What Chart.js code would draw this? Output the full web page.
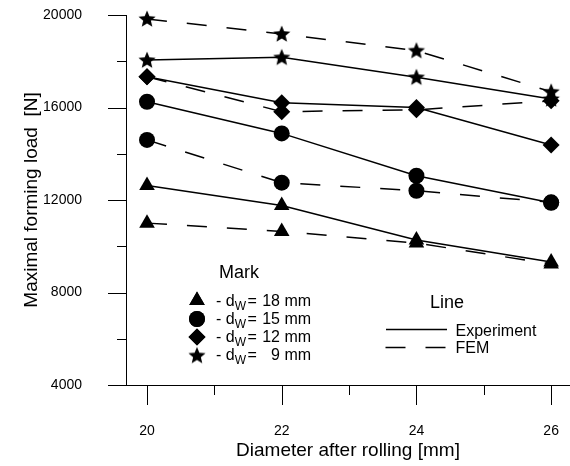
<!DOCTYPE html>
<html><head><meta charset="utf-8">
<script src="https://cdn.jsdelivr.net/npm/chart.js@4.4.1/dist/chart.umd.min.js"></script>
<style>html,body{margin:0;padding:0;background:#fff}#wrap{width:570px;height:466px;position:relative}</style>
</head><body><div id="wrap"><canvas id="c"></canvas></div>
<script>
// ---- data ----
const diameters = [20, 22, 24, 26];
const xMajorTicks = [20, 22, 24, 26];
const xMinorTicks = [21, 23, 25];
const yMajorTicks = [4000, 8000, 12000, 16000, 20000];
const yMinorTicks = [6000, 10000, 14000, 18000];
const rollDiameters = [18, 15, 12, 9];
const exp18 = [12630, 11760, 10270, 9320];
const fem18 = [11000, 10640, 10140, 9230];
const exp15 = [16250, 14880, 13050, 11880];
const fem15 = [14600, 12750, 12400, 11900];
const exp12 = [17330, 16210, 16000, 14380];
const fem12 = [17330, 15820, 15900, 16290];
const exp9 = [18050, 18170, 17310, 16370];
const fem9 = [19830, 19180, 18460, 16680];
const xTitle = 'Diameter after rolling [mm]';
const yTitle = 'Maximal forming load  [N]';
const lineLabels = ['Experiment', 'FEM'];

const FONT = "'Liberation Sans', Arial, sans-serif";
Chart.defaults.font.family = FONT;
Chart.defaults.color = '#000';

function makeStar(R, ratio) {
  const s = Math.ceil(2 * R + 2);
  const c = document.createElement('canvas');
  c.width = s; c.height = s;
  const g = c.getContext('2d');
  g.translate(s / 2, s / 2 + R * 0.05);
  g.beginPath();
  for (let i = 0; i < 10; i++) {
    const r = i % 2 === 0 ? R : R * ratio;
    const a = -Math.PI / 2 + i * Math.PI / 5;
    const px = Math.cos(a) * r, py = Math.sin(a) * r;
    if (i === 0) g.moveTo(px, py); else g.lineTo(px, py);
  }
  g.closePath();
  g.fillStyle = '#000';
  g.fill();
  return c;
}
const starImg = makeStar(9, 0.45);

const markers = [
  {style: 'triangle', radius: 9},
  {style: 'circle', radius: 8},
  {style: 'rectRot', radius: 8.5},
  {style: starImg, radius: 9}
];
const series = [
  [exp18, fem18], [exp15, fem15], [exp12, fem12], [exp9, fem9]
];

const datasets = [];
series.forEach((pair, k) => {
  pair.forEach((vals, j) => {
    datasets.push({
      label: lineLabels[j] + ' d=' + rollDiameters[k],
      data: diameters.map((x, i) => ({x: x, y: vals[i]})),
      borderColor: '#000',
      backgroundColor: '#000',
      borderWidth: 1.5,
      borderDash: j === 1 ? [20, 20] : [],
      pointStyle: markers[k].style,
      pointRadius: markers[k].radius,
      pointBorderWidth: 0,
      pointBackgroundColor: '#000',
      tension: 0,
      clip: false
    });
  });
});

const drawExtras = {
  id: 'extras',
  afterDraw(chart) {
    const ctx = chart.ctx;
    const xs = chart.scales.x, ys = chart.scales.y;
    const left = chart.chartArea.left, bottom = chart.chartArea.bottom;
    ctx.save();
    ctx.strokeStyle = '#000';
    ctx.lineWidth = 1;
    ctx.setLineDash([]);
    ctx.beginPath();
    yMajorTicks.forEach(v => {
      const y = Math.round(ys.getPixelForValue(v)) + 0.5;
      ctx.moveTo(left - 18, y); ctx.lineTo(left + 1, y);
    });
    yMinorTicks.forEach(v => {
      const y = Math.round(ys.getPixelForValue(v)) + 0.5;
      ctx.moveTo(left - 9, y); ctx.lineTo(left + 1, y);
    });
    xMajorTicks.forEach(v => {
      const x = Math.round(xs.getPixelForValue(v)) + 0.5;
      ctx.moveTo(x, bottom); ctx.lineTo(x, bottom + 20);
    });
    xMinorTicks.forEach(v => {
      const x = Math.round(xs.getPixelForValue(v)) + 0.5;
      ctx.moveTo(x, bottom); ctx.lineTo(x, bottom + 10);
    });
    ctx.stroke();

    // legend: markers
    ctx.fillStyle = '#000';
    ctx.textBaseline = 'alphabetic';
    ctx.font = '18px ' + FONT;
    ctx.textAlign = 'left';
    ctx.fillText('Mark', 219, 278);
    const mx = 197;
    const my = [300.5, 319, 337, 355.5];
    const ty = [305.7, 323.8, 341.9, 360];
    markers.forEach((m, i) => {
      ctx.save();
      ctx.fillStyle = '#000';
      ctx.strokeStyle = '#000';
      ctx.lineWidth = 0;
      ctx.beginPath();
      if (typeof m.style === 'string') {
        Chart.helpers.drawPoint(ctx, {pointStyle: m.style, radius: m.radius, rotation: 0, borderWidth: 0}, mx, my[i]);
        ctx.fill();
      } else {
        ctx.drawImage(m.style, mx - m.style.width / 2, my[i] - m.style.height / 2);
      }
      ctx.restore();
    });
    rollDiameters.forEach((d, i) => {
      let x = 216;
      ctx.font = '16px ' + FONT;
      ctx.fillText('- d', x, ty[i]);
      x += ctx.measureText('- d').width;
      ctx.font = '12px ' + FONT;
      ctx.fillText('W', x, ty[i] + 4);
      x += ctx.measureText('W').width + 1.5;
      ctx.font = '16px ' + FONT;
      ctx.fillText('=', x, ty[i]);
      ctx.textAlign = 'right';
      ctx.fillText(String(d), 280, ty[i]);
      ctx.textAlign = 'left';
      ctx.fillText(' mm', 280, ty[i]);
    });
    // legend: lines
    ctx.font = '18px ' + FONT;
    ctx.fillText('Line', 430, 308.3);
    ctx.font = '16px ' + FONT;
    ctx.fillText(lineLabels[0], 455.5, 335.5);
    ctx.fillText(lineLabels[1], 455.5, 353.3);
    ctx.lineWidth = 1.5;
    ctx.beginPath();
    ctx.moveTo(386, 329.5); ctx.lineTo(447, 329.5);
    ctx.stroke();
    ctx.setLineDash([20, 20]);
    ctx.beginPath();
    ctx.moveTo(385.5, 347.5); ctx.lineTo(446.5, 347.5);
    ctx.stroke();
    ctx.restore();
  }
};

new Chart(document.getElementById('c'), {
  type: 'line',
  data: {datasets},
  options: {
    responsive: true,
    maintainAspectRatio: false,
    animation: false,
    layout: {autoPadding: false, padding: {top: 15, right: 0, left: 0, bottom: 0}},
    plugins: {legend: {display: false}, tooltip: {enabled: false}},
    scales: {
      x: {
        type: 'linear',
        min: 19.688,
        max: 26.28,
        afterFit: s => { s.height = 81; s.paddingLeft = 0; s.paddingRight = 0; },
        afterBuildTicks: s => { s.ticks = xMajorTicks.map(v => ({value: v})); },
        grid: {display: false, drawTicks: true, tickLength: 36},
        border: {display: true, color: '#000', width: 1},
        ticks: {padding: 2, font: {size: 14}, color: '#000', callback: v => String(v), maxRotation: 0},
        title: {display: true, text: xTitle, font: {size: 19}, color: '#000', padding: {top: 0, bottom: 4}}
      },
      y: {
        type: 'linear',
        min: 4000,
        max: 20000,
        afterFit: s => { s.width = 126; s.paddingTop = 0; s.paddingBottom = 0; },
        afterBuildTicks: s => { s.ticks = yMajorTicks.map(v => ({value: v})); },
        grid: {display: false, drawTicks: true, tickLength: 42},
        border: {display: true, color: '#000', width: 1},
        ticks: {padding: 2, font: {size: 14}, color: '#000', callback: v => String(v)},
        title: {display: true, text: yTitle, font: {size: 19}, color: '#000', padding: {top: 20, bottom: 0}}
      }
    }
  },
  plugins: [drawExtras]
});
</script>
</body></html>
